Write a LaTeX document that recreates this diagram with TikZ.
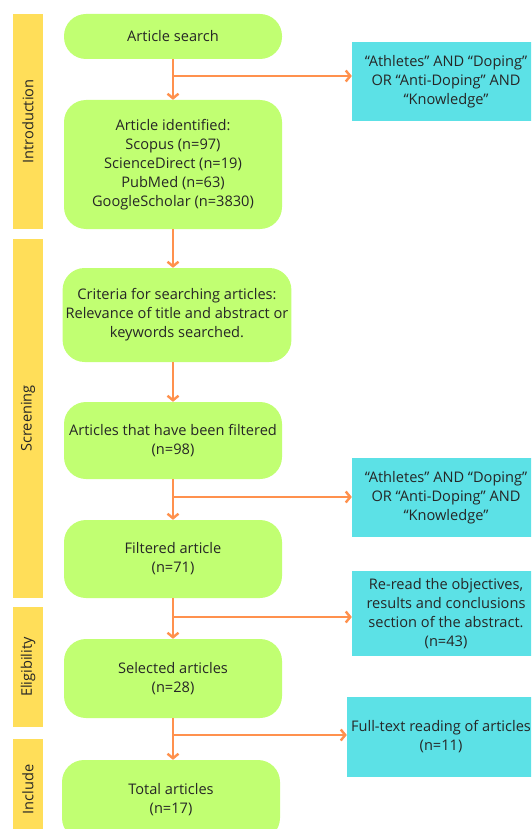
\documentclass[tikz,border=0pt]{standalone}
\usepackage{fontspec}
\setmainfont{Open Sans}
\usepackage{tikz}
\usetikzlibrary{positioning,arrows.meta,calc}

\definecolor{stepgreen}{HTML}{C1FF72}
\definecolor{notecyan}{HTML}{5CE1E6}
\definecolor{phaseyellow}{HTML}{FFDE59}
\definecolor{flowline}{HTML}{FF914D}

\begin{document}
\begin{tikzpicture}[
  x=1pt,y=-1pt,
  every node/.style={font=\fontsize{14.6}{19}\selectfont,text=black!85},
  stepbox/.style={fill=stepgreen,rounded corners=22pt,align=center,minimum width=218pt,inner sep=3pt},
  notebox/.style={fill=notecyan,align=center,minimum width=188pt,inner sep=3pt},
  phase/.style={fill=phaseyellow,minimum width=30pt,inner sep=0pt},
  arrow/.style={-{Straight Barb[length=4.5pt,width=11pt]},line width=2.4pt,draw=flowline}
]
  \useasboundingbox (0,0) rectangle (531,829);
  \clip (0,0) rectangle (531,829);

  % phases
  \node[phase,minimum height=215pt] (intro) at (28,121.5) {};
  \node[rotate=90] at (intro) {Introduction};
  \node[phase,minimum height=359pt] (scr) at (28,418.5) {};
  \node[rotate=90] at (scr) {Screening};
  \node[phase,minimum height=120pt] (elig) at (28,667) {};
  \node[rotate=90] at (elig) {Eligibility};
  \node[phase,minimum height=101pt] (incl) at (28,789.5) {};
  \node[rotate=90] at (incl) {Include};

  % main flow
  \node[stepbox,minimum height=45pt] (search) at (173,36.5) {Article search};
  \node[stepbox,minimum height=129pt] (ident) at (173,164.5) {Article identified:\\Scopus (n=97)\\ScienceDirect (n=19)\\PubMed (n=63)\\GoogleScholar (n=3830)};
  \node[stepbox,minimum width=228pt,minimum height=94pt] (crit) at (177,315) {Criteria for searching articles:\\Relevance of title and abstract or\\keywords searched.};
  \node[stepbox,minimum height=77pt] (filt) at (173,440.5) {Articles that have been filtered\\(n=98)};
  \node[stepbox,minimum height=78pt] (filtd) at (173,559) {Filtered article\\(n=71)};
  \node[stepbox,minimum height=79pt] (sel) at (173,678.5) {Selected articles\\(n=28)};
  \node[stepbox,minimum height=80pt] (total) at (171,800) {Total articles\\(n=17)};

  % side notes
  \node[notebox,minimum height=79pt] (q1) at (446,81.5) {“Athletes” AND “Doping”\\OR “Anti-Doping” AND\\“Knowledge”};
  \node[notebox,minimum height=79pt] (q2) at (446,497.5) {“Athletes” AND “Doping”\\OR “Anti-Doping” AND\\“Knowledge”};
  \node[notebox,minimum height=85pt] (rr) at (446,613.5) {Re-read the objectives,\\results and conclusions\\section of the abstract.\\(n=43)};
  \node[notebox,minimum height=80pt] (ft) at (441,737) {Full-text reading of articles\\(n=11)};

  % connectors
  \draw[arrow] (search.south) -- (search.south |- ident.north);
  \draw[arrow] (ident.south) -- (ident.south |- crit.north);
  \draw[arrow] (ident.south |- crit.south) -- (filt.north);
  \draw[arrow] (filt.south) -- (filtd.north);
  \draw[arrow] (filtd.south) -- (sel.north);
  \draw[arrow] (sel.south) -- (sel.south |- total.north);

  \coordinate (b1) at (173,76);
  \coordinate (b2) at (173,497);
  \coordinate (b3) at (173,617);
  \coordinate (b4) at (173,735);
  \draw[arrow] (b1) -- (b1 -| q1.west);
  \draw[arrow] (b2) -- (b2 -| q2.west);
  \draw[arrow] (b3) -- (b3 -| rr.west);
  \draw[arrow] (b4) -- (b4 -| ft.west);
\end{tikzpicture}
\end{document}
